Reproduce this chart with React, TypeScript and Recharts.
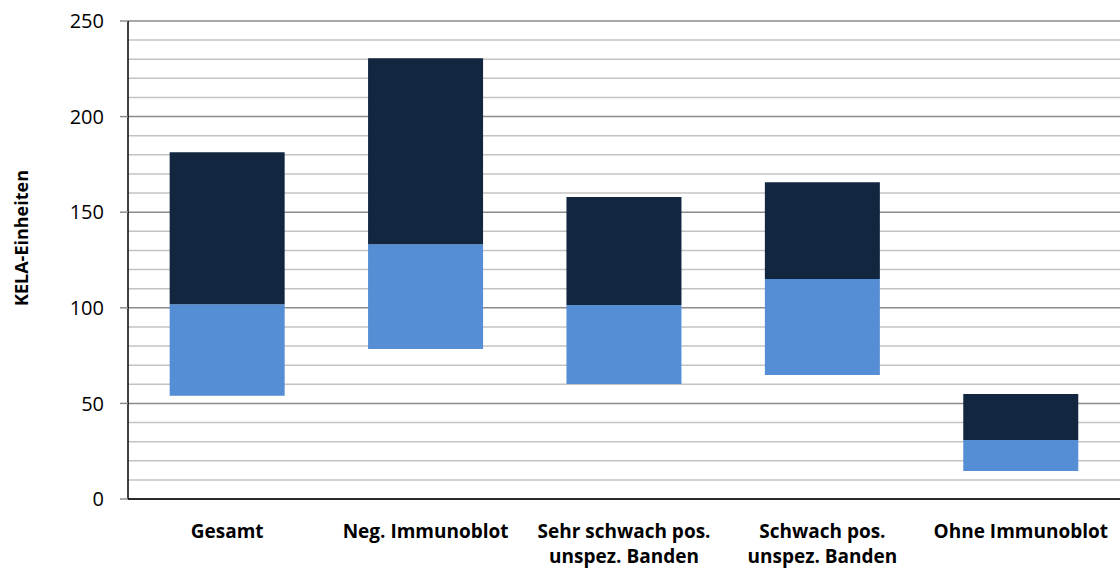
import React from 'react';
import { BarChart, Bar, XAxis, YAxis, CartesianGrid } from 'recharts';

const categories = [
    'Gesamt',
    'Neg. Immunoblot',
    'Sehr schwach pos.\nunspez. Banden',
    'Schwach pos.\nunspez. Banden',
    'Ohne Immunoblot',
];

// floating bars: lower end, split point, upper end (KELA units)
const lowValues = [54.0, 78.4, 60.1, 64.8, 14.6];
const midValues = [101.9, 133.3, 101.4, 115.0, 30.8];
const highValues = [181.4, 230.5, 157.9, 165.7, 54.9];

const majorTicks = [0, 50, 100, 150, 200, 250];
const minorTicks = [10, 20, 30, 40, 60, 70, 80, 90, 110, 120, 130, 140, 160, 170, 180, 190, 210, 220, 230, 240];

const FONT = '"Open Sans", "Noto Sans", sans-serif';

const chartData = categories.map((name, i) => ({
    name,
    base: lowValues[i],
    lower: midValues[i] - lowValues[i],
    upper: highValues[i] - midValues[i],
}));

const CategoryTick = (props: any) => {
    const { x, y, payload } = props;
    const lines: string[] = String(payload.value).split('\n');
    return (
        <text x={x} y={y} textAnchor="middle" fontFamily={FONT} fontSize={19} fontWeight={700} fill="#000">
            {lines.map((line, i) => (
                <tspan key={i} x={x} dy={i === 0 ? 39 : 25}>{line}</tspan>
            ))}
        </text>
    );
};

const AxisTitle = () => (
    <text
        x={28}
        y={238}
        transform="rotate(-90 28 238)"
        textAnchor="middle"
        fontFamily={FONT}
        fontSize={18}
        fontWeight={700}
        fill="#000"
    >
        KELA-Einheiten
    </text>
);

const App: React.FC = () => {
    return (
        <div style={{ position: 'absolute', top: 0, left: 0, width: 1120, height: 570, background: '#fff' }}>
            <BarChart
                width={1120}
                height={570}
                data={chartData}
                margin={{ top: 21, right: 0, left: 0, bottom: 0 }}
                barCategoryGap="21%"
            >
                <CartesianGrid vertical={false} horizontalValues={minorTicks} stroke="#c3c3c3" strokeWidth={1.5} />
                <CartesianGrid vertical={false} horizontalValues={majorTicks} stroke="#8c8c8c" strokeWidth={1.5} />
                <XAxis
                    dataKey="name"
                    height={71}
                    interval={0}
                    tickLine={false}
                    axisLine={{ stroke: '#000', strokeWidth: 1.5 }}
                    tick={<CategoryTick />}
                    tickMargin={0}
                    tickSize={0}
                />
                <YAxis
                    width={128}
                    domain={[0, 250]}
                    ticks={majorTicks}
                    interval={0}
                    tickSize={8}
                    tickMargin={16}
                    axisLine={{ stroke: '#000', strokeWidth: 1.5 }}
                    tickLine={{ stroke: '#8c8c8c', strokeWidth: 1.5 }}
                    tick={{ fontFamily: FONT, fontSize: 20, fill: '#000' }}
                    label={<AxisTitle />}
                />
                <Bar dataKey="base" stackId="a" fill="transparent" isAnimationActive={false} />
                <Bar dataKey="lower" stackId="a" fill="#558ed5" isAnimationActive={false} />
                <Bar dataKey="upper" stackId="a" fill="#13263f" isAnimationActive={false} />
            </BarChart>
        </div>
    );
};

export default App;
